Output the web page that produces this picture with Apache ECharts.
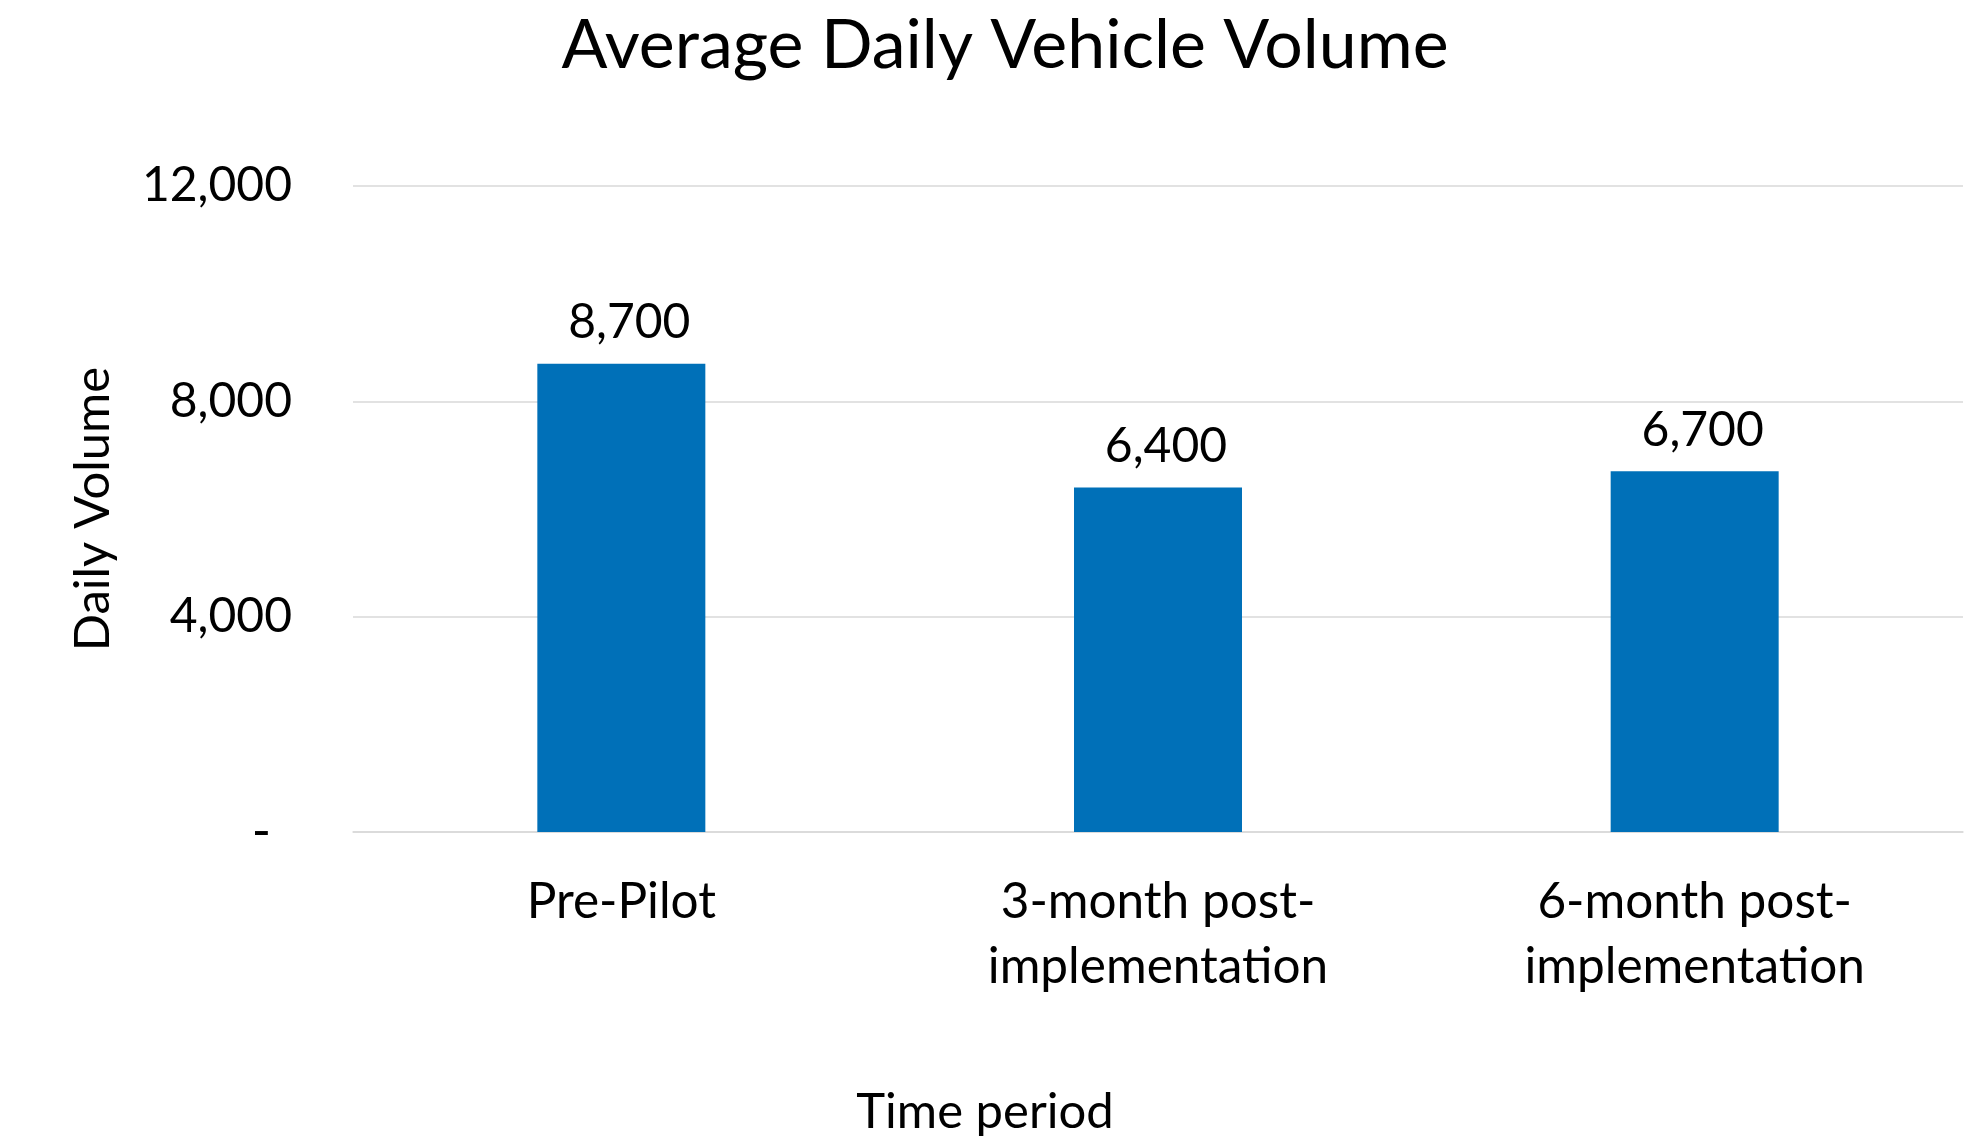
<!DOCTYPE html>
<html>
<head>
<meta charset="utf-8">
<script src="https://cdn.jsdelivr.net/npm/echarts@6/dist/echarts.min.js"></script>
<style>
  html, body { margin: 0; padding: 0; background: #fff; }
  #main { width: 1965px; height: 1139px; }
</style>
</head>
<body>
<div id="main"></div>
<script>
// chart data
const categories = ['Pre-Pilot', '3-month post-\nimplementation', '6-month post-\nimplementation'];
const volumes = [8700, 6400, 6700];
const yTicks = [0, 4000, 8000, 12000];

const FONT = 'Lato';
// excel accounting style: zero shows as a dash
const fmt = v => v === 0 ? '{z|-}' : v.toLocaleString('en-US');

let myChart = echarts.init(document.getElementById('main'));
myChart.setOption({
    backgroundColor: '#fff',
    textStyle: { fontFamily: FONT, color: '#000' },
    title: {
        text: 'Average Daily Vehicle Volume',
        left: 1000,
        top: 7,
        textAlign: 'center',
        textStyle: { fontFamily: FONT, fontSize: 68, fontWeight: 'normal', color: '#000' }
    },
    grid: { left: 353, right: 2, top: 186, bottom: 307, containLabel: false, outerBoundsMode: 'none' },
    xAxis: {
        type: 'category',
        data: categories,
        axisLine: { show: true, lineStyle: { color: '#d9d9d9', width: 1.5 } },
        axisTick: { show: false },
        axisLabel: { margin: 38, fontSize: 49.5, lineHeight: 65, color: '#000', fontFamily: FONT, interval: 0 },
        name: 'Time period',
        nameLocation: 'middle',
        nameGap: 256,
        nameTextStyle: { fontSize: 49, color: '#000', fontFamily: FONT, padding: [0, 346, 0, 0] }
    },
    yAxis: {
        type: 'value',
        min: yTicks[0],
        max: yTicks[yTicks.length - 1],
        interval: yTicks[1] - yTicks[0],
        axisLine: { show: false },
        axisTick: { show: false },
        splitLine: { lineStyle: { color: '#d9d9d9', width: 1.5 } },
        axisLabel: {
            margin: 61, fontSize: 48, color: '#000', fontFamily: FONT, formatter: fmt,
            rich: { z: { fontSize: 52, fontFamily: FONT, color: '#000', padding: [0, 21, 0, 0] } }
        },
        name: 'Daily Volume',
        nameLocation: 'middle',
        nameGap: 235,
        nameTextStyle: { fontSize: 49, color: '#000', fontFamily: FONT }
    },
    series: [
        {
            name: 'Daily Volume',
            type: 'bar',
            data: volumes,
            barWidth: 168,
            itemStyle: { color: '#0070b8' },
            label: {
                show: true,
                position: 'top',
                distance: 17,
                offset: [8, 0],
                fontSize: 48,
                color: '#000',
                fontFamily: FONT,
                formatter: p => p.value.toLocaleString('en-US')
            }
        }
    ]
});
</script>
</body>
</html>
